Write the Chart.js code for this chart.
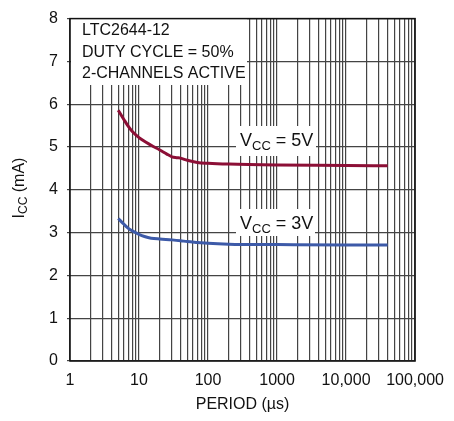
<!DOCTYPE html>
<html>
<head>
<meta charset="utf-8">
<script src="https://cdn.jsdelivr.net/npm/chart.js@4"></script>
<style>
  html, body { margin: 0; padding: 0; background: #fff; }
  #wrap { width: 454px; height: 421px; }
</style>
</head>
<body>
<div id="wrap"><canvas id="myChart"></canvas></div>
<script>
const FONT = '"Liberation Sans", Arial, sans-serif';

// period (us) and supply current (mA)
const period5V = [5, 6, 7, 8, 10, 15, 20, 25, 30, 35, 40, 50, 70, 100, 200, 1000, 10000, 40000];
const icc5V    = [5.86, 5.65, 5.48, 5.36, 5.22, 5.04, 4.93, 4.84, 4.77, 4.75, 4.74, 4.69, 4.64, 4.62, 4.60, 4.58, 4.57, 4.56];

const period3V = [5, 6, 7, 8, 10, 12, 15, 20, 30, 40, 50, 70, 100, 200, 1000, 10000, 40000];
const icc3V    = [3.33, 3.20, 3.10, 3.04, 2.96, 2.91, 2.87, 2.85, 2.83, 2.81, 2.79, 2.77, 2.75, 2.73, 2.72, 2.71, 2.71];

const xTickValues = [1, 10, 100, 1000, 10000, 100000];
const xTickLabels = ['1', '10', '100', '1000', '10,000', '100,000'];
const yTickValues = [0, 1, 2, 3, 4, 5, 6, 7, 8];

const noteLines = ['LTC2644-12', 'DUTY CYCLE = 50%', '2-CHANNELS ACTIVE'];

// grid lines at 1..9 of every decade
const xGrid = [];
for (let d = 1; d < 100000; d *= 10) {
  for (let m = 1; m < 10; m++) xGrid.push(d * m);
}
xGrid.push(100000);

const toPoints = (xs, ys) => xs.map((x, i) => ({ x: x, y: ys[i] }));

function drawVcc(ctx, x, y, volts) {
  ctx.textBaseline = 'alphabetic';
  ctx.textAlign = 'left';
  ctx.fillStyle = '#111';
  ctx.font = '18px ' + FONT;
  ctx.fillText('V', x, y);
  let w = ctx.measureText('V').width;
  ctx.font = '13px ' + FONT;
  ctx.fillText('CC', x + w, y + 4);
  w += ctx.measureText('CC').width;
  ctx.font = '18px ' + FONT;
  ctx.fillText(' = ' + volts, x + w, y);
}

const annotations = {
  id: 'annotations',
  beforeDatasetsDraw(chart) {
    const ctx = chart.ctx;
    ctx.save();
    ctx.fillStyle = '#fff';
    ctx.fillRect(71, 15, 176, 70);
    ctx.fillRect(236, 126, 80, 30);
    ctx.fillRect(236, 209, 79, 27);

    ctx.fillStyle = '#111';
    ctx.font = '16px ' + FONT;
    ctx.textBaseline = 'alphabetic';
    ctx.textAlign = 'left';
    noteLines.forEach((t, i) => ctx.fillText(t, 82, 35 + i * 21.7));

    drawVcc(ctx, 240, 145.5, '5V');
    drawVcc(ctx, 240, 229, '3V');
    ctx.restore();
  },
  afterDraw(chart) {
    const ctx = chart.ctx;
    const a = chart.chartArea;
    ctx.save();
    ctx.strokeStyle = '#111';
    ctx.lineWidth = 1.5;
    ctx.strokeRect(a.left, a.top, a.right - a.left, a.bottom - a.top);

    // axis titles
    ctx.fillStyle = '#111';
    ctx.textBaseline = 'alphabetic';
    ctx.textAlign = 'center';
    ctx.font = '16px ' + FONT;
    ctx.fillText('PERIOD (\u00b5s)', (a.left + a.right) / 2, 409);

    ctx.translate(24, 188);
    ctx.rotate(-Math.PI / 2);
    ctx.textAlign = 'left';
    ctx.font = '16px ' + FONT;
    const w1 = ctx.measureText('I').width;
    const w3 = ctx.measureText(' (mA)').width;
    ctx.font = '12px ' + FONT;
    const w2 = ctx.measureText('CC').width;
    let x0 = -(w1 + w2 + w3) / 2;
    ctx.font = '16px ' + FONT;
    ctx.fillText('I', x0, 0);
    ctx.font = '12px ' + FONT;
    ctx.fillText('CC', x0 + w1, 3);
    ctx.font = '16px ' + FONT;
    ctx.fillText(' (mA)', x0 + w1 + w2, 0);
    ctx.restore();
  }
};

const ctx = document.getElementById('myChart');

new Chart(ctx, {
  type: 'scatter',
  data: {
    datasets: [{
      label: 'VCC = 5V',
      data: toPoints(period5V, icc5V),
      showLine: true,
      borderColor: '#8c0f36',
      borderWidth: 3,
      pointRadius: 0,
      cubicInterpolationMode: 'monotone'
    }, {
      label: 'VCC = 3V',
      data: toPoints(period3V, icc3V),
      showLine: true,
      borderColor: '#3d5aa8',
      borderWidth: 3,
      pointRadius: 0,
      cubicInterpolationMode: 'monotone'
    }]
  },
  options: {
    responsive: true,
    maintainAspectRatio: false,
    animation: false,
    layout: { padding: { left: 0, top: 9, right: 32, bottom: 0 } },
    plugins: {
      legend: { display: false },
      tooltip: { enabled: false }
    },
    scales: {
      x: {
        type: 'logarithmic',
        min: 1,
        max: 100000,
        afterBuildTicks: (scale) => {
          scale.ticks = xGrid.map(v => ({ value: v }));
        },
        afterFit: (scale) => { scale.height = 60; },
        grid: { color: '#444', lineWidth: 1.2, drawTicks: false },
        border: { display: false },
        ticks: {
          autoSkip: false,
          maxRotation: 0,
          padding: 10,
          color: '#111',
          font: { family: FONT, size: 16 },
          callback: (value) => {
            const i = xTickValues.indexOf(value);
            return i >= 0 ? xTickLabels[i] : '';
          }
        }
      },
      y: {
        min: 0,
        max: 8,
        afterBuildTicks: (scale) => {
          scale.ticks = yTickValues.map(v => ({ value: v }));
        },
        afterFit: (scale) => { scale.width = 70; },
        grid: { color: '#444', lineWidth: 1.2, tickLength: 3 },
        border: { display: false },
        ticks: {
          padding: 9,
          color: '#111',
          font: { family: FONT, size: 16 }
        }
      }
    }
  },
  plugins: [annotations]
});
</script>
</body>
</html>
